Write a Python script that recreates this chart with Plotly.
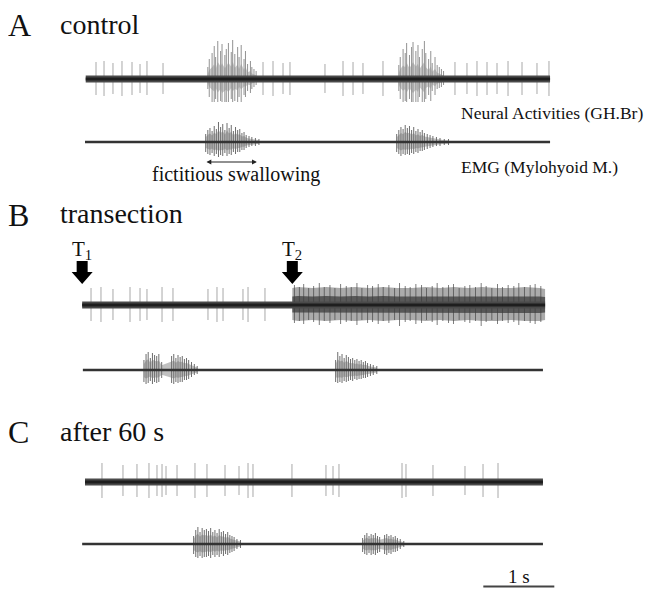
import plotly.graph_objects as go

# ---------------- DATA (times in s, amplitudes in a.u.) ----------------
trace_names = ["A neural", "A EMG", "B neural", "B EMG", "C neural", "C EMG"]
trace_start = [0.01, 0.00, -0.04, -0.03, 0.00, -0.04]
trace_end = [6.55, 6.55, 6.48, 6.45, 6.45, 6.45]

# tonic (single) spikes on neural traces
A_spk_t = [0.155, 0.268, 0.394, 0.521, 0.662, 0.775, 0.873, 1.099, 2.507, 2.648, 2.789,
           2.887, 3.380, 3.634, 3.775, 3.915, 4.197, 5.211, 5.380, 5.521, 5.662, 5.803,
           5.958, 6.155, 6.366, 6.535]
A_spk_up = [17, 18, 16, 18, 17, 15, 18, 16, 17, 18, 16, 17, 15, 18, 17, 16, 18, 17, 16,
            18, 17, 16, 18, 17, 16, 18]
A_spk_dn = [16, 17, 15, 17, 16, 14, 16, 15, 16, 17, 15, 16, 14, 17, 16, 15, 17, 16, 15,
            17, 16, 15, 17, 16, 15, 17]

B_spk_t = [0.085, 0.225, 0.394, 0.634, 0.775, 0.873, 1.085, 1.239, 1.732, 1.859, 1.944,
           2.225, 2.296, 2.535]
B_spk_up = [17, 18, 16, 18, 17, 16, 18, 17, 16, 18, 17, 16, 18, 17]
B_spk_dn = [16, 17, 15, 17, 16, 15, 17, 16, 15, 17, 16, 15, 17, 16]

C_spk_t = [0.239, 0.535, 0.732, 0.901, 1.014, 1.085, 1.141, 1.296, 1.549, 1.718, 1.972,
           2.169, 2.296, 2.366, 2.915, 3.394, 3.493, 3.577, 4.465, 4.521, 4.901, 5.352,
           5.606, 5.817]
C_spk_up = [19, 17, 18, 19, 17, 18, 16, 17, 19, 18, 17, 16, 19, 18, 18, 17, 16, 18, 19,
            18, 17, 16, 18, 19]
C_spk_dn = [16, 14, 15, 16, 14, 15, 13, 14, 16, 15, 14, 13, 16, 15, 15, 14, 13, 15, 16,
            15, 14, 13, 15, 16]

# swallowing bursts (spike times, upward and downward deflections)
A1_b1_t = [1.73, 1.75, 1.79, 1.82, 1.84, 1.87, 1.91, 1.93, 1.97, 1.99, 2.02, 2.06, 2.08,
           2.11, 2.15, 2.17, 2.20, 2.24, 2.26, 2.29, 2.33, 2.35, 2.38, 2.41]
A1_b1_up = [12, 20, 26, 33, 22, 38, 28, 35, 24, 30, 36, 27, 39, 25, 32, 22, 34, 20, 28,
            15, 18, 12, 10, 8]
A1_b1_dn = [10, 18, 24, 28, 20, 30, 22, 31, 26, 24, 29, 20, 27, 22, 25, 18, 23, 16, 18,
            12, 14, 10, 8, 6]
A1_b2_t = [4.42, 4.44, 4.48, 4.51, 4.53, 4.57, 4.60, 4.62, 4.66, 4.69, 4.71, 4.75, 4.78,
           4.80, 4.84, 4.87, 4.89, 4.93, 4.96, 4.99, 5.02, 5.05]
A1_b2_up = [14, 22, 30, 26, 36, 24, 32, 37, 28, 34, 22, 30, 38, 26, 20, 28, 16, 22, 14,
            12, 10, 8]
A1_b2_dn = [12, 20, 26, 22, 30, 20, 28, 31, 24, 29, 18, 25, 30, 20, 16, 22, 12, 16, 10,
            9, 8, 6]

A2_b1_t = [1.70, 1.73, 1.76, 1.79, 1.82, 1.85, 1.88, 1.91, 1.94, 1.97, 2.00, 2.03, 2.06,
           2.09, 2.12, 2.15, 2.18, 2.21, 2.24, 2.27, 2.31, 2.35, 2.40, 2.45]
A2_b1_up = [8, 12, 14, 11, 16, 13, 20, 15, 18, 12, 19, 14, 17, 11, 15, 12, 13, 9, 10, 7,
            6, 5, 4, 3]
A2_b1_dn = [10, 12, 13, 11, 14, 12, 15, 13, 14, 11, 14, 12, 13, 10, 12, 10, 10, 8, 8, 6,
            5, 4, 4, 3]
A2_b2_t = [4.39, 4.42, 4.45, 4.48, 4.51, 4.54, 4.57, 4.60, 4.63, 4.66, 4.69, 4.72, 4.75,
           4.78, 4.82, 4.86, 4.90, 4.95, 5.00, 5.06, 5.12]
A2_b2_up = [8, 12, 15, 13, 17, 14, 16, 12, 15, 11, 13, 10, 12, 9, 8, 7, 6, 5, 4, 3, 3]
A2_b2_dn = [10, 12, 14, 12, 13, 12, 13, 11, 12, 10, 11, 9, 9, 8, 7, 6, 5, 4, 4, 3, 3]

B2_b1_t = [0.83, 0.86, 0.89, 0.92, 0.95, 0.98, 1.01, 1.04, 1.08, 1.22, 1.25, 1.28, 1.31,
           1.34, 1.37, 1.40, 1.43, 1.46, 1.50, 1.54, 1.58]
B2_b1_up = [10, 16, 18, 12, 17, 15, 14, 16, 8, 14, 16, 12, 15, 13, 14, 11, 12, 10, 8, 6, 4]
B2_b1_dn = [12, 14, 13, 11, 14, 12, 13, 12, 8, 13, 14, 12, 13, 12, 12, 10, 10, 9, 7, 5, 4]
B2_b2_t = [3.53, 3.56, 3.59, 3.62, 3.65, 3.68, 3.71, 3.74, 3.77, 3.80, 3.83, 3.86, 3.89,
           3.92, 3.95, 3.98, 4.02, 4.06, 4.11]
B2_b2_up = [10, 18, 14, 16, 12, 15, 13, 11, 12, 10, 11, 9, 10, 8, 9, 7, 6, 5, 4]
B2_b2_dn = [12, 13, 12, 13, 11, 12, 11, 10, 11, 9, 10, 9, 9, 8, 8, 7, 6, 5, 4]

C2_b1_t = [1.53, 1.56, 1.59, 1.62, 1.65, 1.68, 1.71, 1.74, 1.77, 1.80, 1.83, 1.86, 1.89,
           1.92, 1.95, 1.98, 2.01, 2.04, 2.07, 2.10, 2.14, 2.19]
C2_b1_up = [8, 14, 17, 12, 16, 14, 15, 13, 16, 12, 14, 11, 15, 12, 13, 10, 12, 9, 8, 7, 5, 4]
C2_b1_dn = [10, 13, 14, 12, 14, 13, 13, 12, 14, 11, 13, 11, 13, 10, 12, 10, 11, 9, 8, 7, 5, 4]
C2_b2_t = [3.91, 3.94, 3.97, 4.00, 4.03, 4.06, 4.09, 4.12, 4.15, 4.22, 4.25, 4.28, 4.31,
           4.34, 4.37, 4.40, 4.44, 4.49]
C2_b2_up = [6, 9, 11, 8, 10, 9, 11, 8, 7, 9, 10, 8, 9, 7, 8, 6, 5, 3]
C2_b2_dn = [8, 10, 11, 9, 11, 10, 11, 9, 8, 10, 11, 9, 10, 8, 8, 7, 5, 3]

# sustained discharge after the second transection
B1_hi_t = [2.92, 3.0, 3.2, 3.4, 3.6, 3.8, 4.0, 4.2, 4.4, 4.6, 4.8, 5.0, 5.2, 5.4, 5.6,
           5.8, 6.0, 6.2, 6.4, 6.48]
B1_hi_up = [17, 18, 17, 18, 17, 18, 17, 18, 17, 17, 18, 17, 18, 17, 18, 17, 17, 18, 17, 16]
B1_hi_dn = [15, 16, 15, 16, 15, 16, 15, 16, 15, 15, 16, 15, 16, 15, 16, 16, 15, 16, 16, 15]
B1_streak_t = [2.95, 3.02, 3.08, 3.15, 3.22, 3.30, 3.37, 3.45, 3.52, 3.60,
               3.68, 3.75, 3.83, 3.90, 3.98, 4.05, 4.13, 4.20, 4.28, 4.36,
               4.43, 4.51, 4.58, 4.66, 4.74, 4.81, 4.89, 4.96, 5.04, 5.12,
               5.19, 5.27, 5.35, 5.42, 5.50, 5.58, 5.65, 5.73, 5.81, 5.88,
               5.96, 6.04, 6.11, 6.19, 6.27, 6.34, 6.42]
B1_streak_up = [20, 18, 21, 17, 19, 22, 18, 20, 17, 21, 19, 18, 22, 17, 20, 19, 21, 18,
                20, 17, 22, 19, 18, 21, 20, 17, 19, 22, 18, 20, 21, 17, 19, 20, 18, 22,
                19, 17, 21, 18, 20, 19, 22, 18, 20, 21, 19]
B1_streak_dn = [18, 16, 19, 15, 17, 20, 16, 18, 15, 19, 17, 16, 20, 15, 18, 17, 19, 16,
                18, 15, 21, 17, 16, 19, 18, 15, 17, 20, 16, 18, 19, 15, 17, 18, 16, 21,
                17, 15, 19, 16, 18, 17, 20, 16, 18, 19, 17]

transection_times = [-0.04, 2.92]
transection_labels = ["T<sub>1</sub>", "T<sub>2</sub>"]
swallow_marker = [1.69, 2.42]
scalebar_start, scalebar_len = 5.61, 1.0

# ---------------- LAYOUT CONSTANTS ----------------
PAGE_W, PAGE_H = 658, 589
OFF = 8                       # browser page margin
W, H = PAGE_W - OFF, PAGE_H - OFF
PX_PER_S = 71.0
T0_PX = 85.0
HALF = 40.0
baseline_px = [79, 142, 305, 370, 482, 544]
is_neural = [True, False, True, False, True, False]
FONT = "Liberation Serif, Times New Roman, serif"


def py(px):
    return 1 - (px - OFF) / H


def pxx(px):
    return (px - OFF) / W


fig = go.Figure()
layout_axes = {}
for i in range(6):
    b = baseline_px[i]
    key = "yaxis" if i == 0 else f"yaxis{i + 1}"
    layout_axes[key] = dict(domain=[py(b + HALF), py(b - HALF)], range=[-HALF, HALF],
                            visible=False, fixedrange=True)


def yref(i):
    return "y" if i == 0 else f"y{i + 1}"


def spikes(i, t, up, dn, color, width):
    xs, ys = [], []
    for tt, u, d in zip(t, up, dn):
        xs += [tt, tt, None]
        ys += [-d, u, None]
    fig.add_trace(go.Scatter(x=xs, y=ys, mode="lines", yaxis=yref(i),
                             line=dict(color=color, width=width), hoverinfo="skip",
                             showlegend=False))


def envelope(i, t, up, dn, scale, color):
    xs = list(t) + list(t)[::-1]
    ys = [u * scale for u in up] + [-d * scale for d in dn][::-1]
    fig.add_trace(go.Scatter(x=xs, y=ys, mode="lines", fill="toself", fillcolor=color,
                             line=dict(width=0, color=color), yaxis=yref(i),
                             hoverinfo="skip", showlegend=False))


def baseline(i):
    if is_neural[i]:
        fig.add_trace(go.Scatter(x=[trace_start[i], trace_end[i]], y=[0, 0], mode="lines",
                                 yaxis=yref(i), line=dict(color="#4a4a4a", width=7),
                                 hoverinfo="skip", showlegend=False))
        fig.add_trace(go.Scatter(x=[trace_start[i], trace_end[i]], y=[0, 0], mode="lines",
                                 yaxis=yref(i), line=dict(color="#1e1e1e", width=3),
                                 hoverinfo="skip", showlegend=False))
    else:
        fig.add_trace(go.Scatter(x=[trace_start[i], trace_end[i]], y=[0, 0], mode="lines",
                                 yaxis=yref(i), line=dict(color="#333333", width=2.5),
                                 hoverinfo="skip", showlegend=False))


# A neural
spikes(0, A_spk_t, A_spk_up, A_spk_dn, "#a8a8a8", 1)
for bt, bu, bd in [(A1_b1_t, A1_b1_up, A1_b1_dn), (A1_b2_t, A1_b2_up, A1_b2_dn)]:
    envelope(0, bt, bu, bd, 0.45, "rgba(130,130,130,0.45)")
    spikes(0, bt, bu, bd, "#929292", 1)
baseline(0)

# A EMG
for bt, bu, bd in [(A2_b1_t, A2_b1_up, A2_b1_dn), (A2_b2_t, A2_b2_up, A2_b2_dn)]:
    envelope(1, bt, bu, bd, 0.6, "rgba(130,130,130,0.5)")
    spikes(1, bt, bu, bd, "#6e6e6e", 1)
baseline(1)

# B neural
spikes(2, B_spk_t, B_spk_up, B_spk_dn, "#a8a8a8", 1)
envelope(2, B1_hi_t, B1_hi_up, B1_hi_dn, 1.0, "rgba(150,150,150,0.8)")
spikes(2, B1_streak_t, B1_streak_up, B1_streak_dn, "rgba(70,70,70,0.7)", 1)
envelope(2, B1_hi_t, B1_hi_up, B1_hi_dn, 0.5, "rgba(60,60,60,0.75)")
baseline(2)

# B EMG
for bt, bu, bd in [(B2_b1_t, B2_b1_up, B2_b1_dn), (B2_b2_t, B2_b2_up, B2_b2_dn)]:
    envelope(3, bt, bu, bd, 0.6, "rgba(130,130,130,0.5)")
    spikes(3, bt, bu, bd, "#6e6e6e", 1)
baseline(3)

# C neural
spikes(4, C_spk_t, C_spk_up, C_spk_dn, "#a8a8a8", 1)
baseline(4)

# C EMG
for bt, bu, bd in [(C2_b1_t, C2_b1_up, C2_b1_dn), (C2_b2_t, C2_b2_up, C2_b2_dn)]:
    envelope(5, bt, bu, bd, 0.6, "rgba(130,130,130,0.5)")
    spikes(5, bt, bu, bd, "#6e6e6e", 1)
baseline(5)

# ---------------- annotations ----------------
ann = []


def text(s, xpx, ypx, size, xanchor="left"):
    ann.append(dict(text=s, x=pxx(xpx), y=py(ypx), xref="paper", yref="paper",
                    xanchor=xanchor, yanchor="middle", showarrow=False,
                    font=dict(family=FONT, size=size, color="#111111")))


text("A", 6, 25, 32)
text("control", 58, 24, 28)
text("B", 6, 215, 32)
text("transection", 58, 214, 28)
text("C", 6, 432, 32)
text("after 60 s", 58, 431, 28)
text("fictitious swallowing", 236, 175, 20, "center")
text("Neural Activities (GH.Br)", 459, 113, 17.5)
text("EMG (Mylohyoid M.)", 459, 167, 17.5)
text("1 s", 519, 576, 19, "center")

for tt, lab in zip(transection_times, transection_labels):
    ann.append(dict(text=lab, x=tt, y=py(250), xref="x", yref="paper",
                    xanchor="center", yanchor="middle", showarrow=False,
                    font=dict(family=FONT, size=21, color="#111111")))

# swallowing double arrow (20 units below the A EMG baseline)
ann.append(dict(x=swallow_marker[1], y=-20, ax=swallow_marker[0], ay=-20,
                xref="x", yref="y2", axref="x", ayref="y2", text="",
                showarrow=True, arrowhead=2, arrowside="end+start", arrowsize=0.8,
                arrowwidth=1.2, arrowcolor="#222222"))

shapes = []
# block arrows for transections
hw, sw = 10.5 / PX_PER_S, 5.5 / PX_PER_S
for tt in transection_times:
    pts = [(tt - sw, 261), (tt + sw, 261), (tt + sw, 272), (tt + hw, 272), (tt, 284),
           (tt - hw, 272), (tt - sw, 272)]
    path = "M " + " L ".join(f"{x:.4f},{py(y):.5f}" for x, y in pts) + " Z"
    shapes.append(dict(type="path", path=path, xref="x", yref="paper",
                       fillcolor="#000000", line=dict(width=0)))

# scale bar
shapes.append(dict(type="line", xref="x", yref="paper", x0=scalebar_start,
                   x1=scalebar_start + scalebar_len, y0=py(586.5), y1=py(586.5),
                   line=dict(color="#444444", width=2)))

fig.update_layout(
    width=W, height=H, autosize=False,
    margin=dict(l=0, r=0, t=0, b=0),
    paper_bgcolor="white", plot_bgcolor="white",
    xaxis=dict(range=[-(T0_PX - OFF) / PX_PER_S, (PAGE_W - T0_PX) / PX_PER_S],
               visible=False, fixedrange=True, domain=[0, 1]),
    annotations=ann, shapes=shapes, showlegend=False,
    **layout_axes,
)
fig.write_html("out.html")
